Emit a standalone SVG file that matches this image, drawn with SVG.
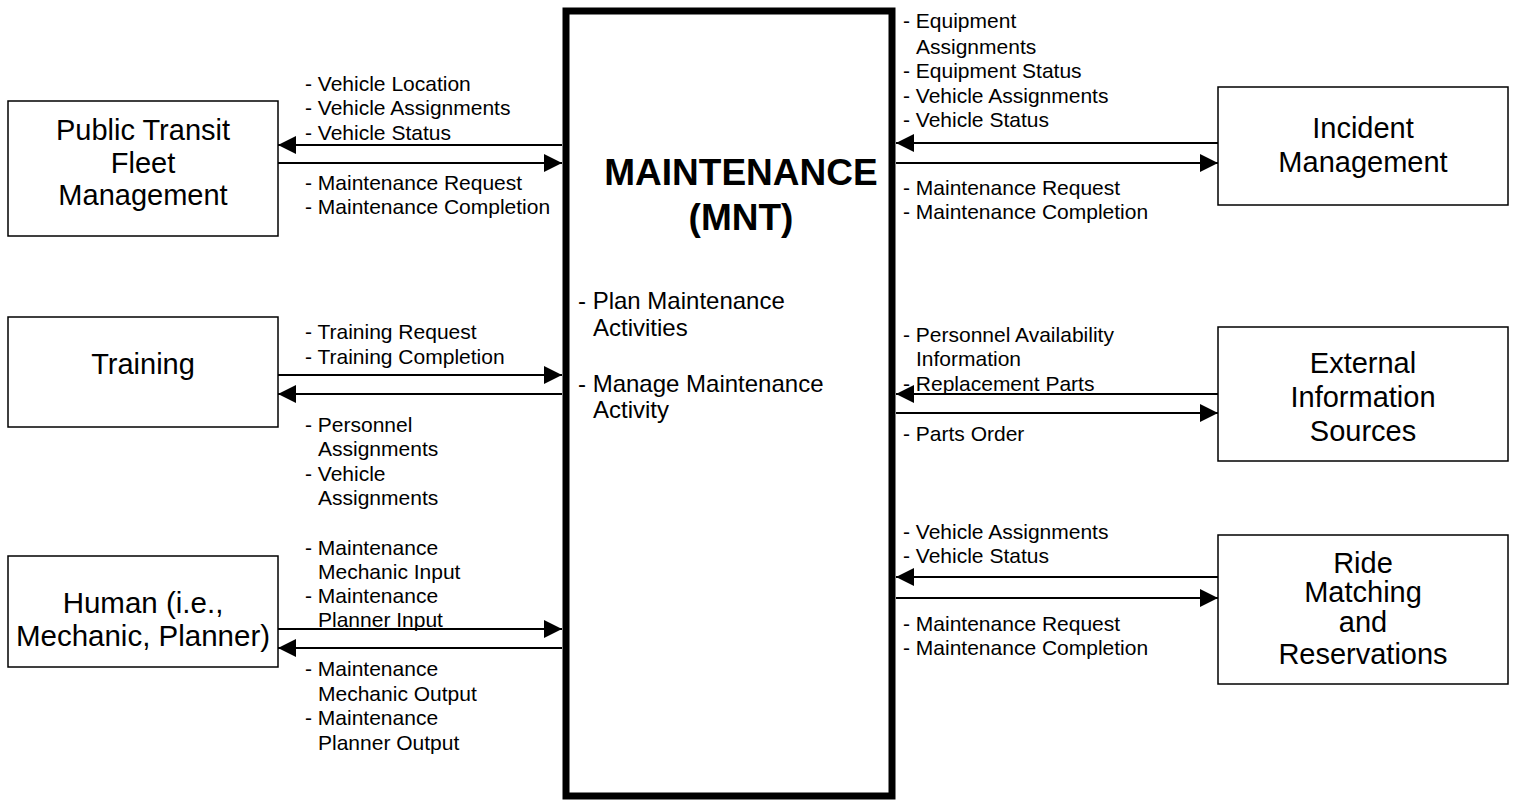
<svg xmlns="http://www.w3.org/2000/svg" width="1515" height="802" viewBox="0 0 1515 802">
<style>
.box{fill:#fff;stroke:#000;stroke-width:1.5}
.main{fill:#fff;stroke:#000;stroke-width:7}
.nt{font-family:"Liberation Sans",Arial,sans-serif;font-size:29px;text-anchor:middle;fill:#000}
.lb{font-family:"Liberation Sans",Arial,sans-serif;font-size:21px;fill:#000}
.ct{font-family:"Liberation Sans",Arial,sans-serif;font-size:24px;fill:#000}
.title{font-family:"Liberation Sans",Arial,sans-serif;font-size:37px;font-weight:bold;text-anchor:middle;fill:#000}
.ar{stroke:#000;stroke-width:2;fill:none;marker-end:url(#ah)}
</style>
<defs>
<marker id="ah" markerUnits="userSpaceOnUse" markerWidth="18" markerHeight="18" refX="18" refY="9" orient="auto">
<path d="M0,0 L18,9 L0,18 z" fill="#000"/>
</marker>
</defs>
<rect width="1515" height="802" fill="#fff"/>

<g id="mnt">
<rect class="main" x="566" y="11" width="326" height="785"/>
<text class="title" x="741" y="185">MAINTENANCE</text>
<text class="title" x="741" y="230">(MNT)</text>
<text class="ct" x="578" y="309">- Plan Maintenance</text>
<text class="ct" x="593" y="336">Activities</text>
<text class="ct" x="578" y="392">- Manage Maintenance</text>
<text class="ct" x="593" y="418">Activity</text>
</g>

<g id="ptfm">
<rect class="box" x="8" y="101" width="270" height="135"/>
<text class="nt" x="143" y="140">Public Transit</text>
<text class="nt" x="143" y="173">Fleet</text>
<text class="nt" x="143" y="205">Management</text>
</g>

<g id="training">
<rect class="box" x="8" y="317" width="270" height="110"/>
<text class="nt" x="143" y="374">Training</text>
</g>

<g id="human">
<rect class="box" x="8" y="556" width="270" height="111"/>
<text class="nt" x="143" y="613" style="font-size:29.5px">Human (i.e.,</text>
<text class="nt" x="143" y="646" style="font-size:29.5px">Mechanic, Planner)</text>
</g>

<g id="incident">
<rect class="box" x="1218" y="87" width="290" height="118"/>
<text class="nt" x="1363" y="138">Incident</text>
<text class="nt" x="1363" y="172">Management</text>
</g>

<g id="external">
<rect class="box" x="1218" y="327" width="290" height="134"/>
<text class="nt" x="1363" y="373">External</text>
<text class="nt" x="1363" y="407">Information</text>
<text class="nt" x="1363" y="441">Sources</text>
</g>

<g id="ride">
<rect class="box" x="1218" y="535" width="290" height="149"/>
<text class="nt" x="1363" y="573">Ride</text>
<text class="nt" x="1363" y="602">Matching</text>
<text class="nt" x="1363" y="632">and</text>
<text class="nt" x="1363" y="664">Reservations</text>
</g>

<g id="connectors">
<line class="ar" x1="562" y1="145" x2="278" y2="145"/>
<line class="ar" x1="278" y1="163" x2="562" y2="163"/>
<line class="ar" x1="278" y1="375" x2="562" y2="375"/>
<line class="ar" x1="562" y1="394" x2="278" y2="394"/>
<line class="ar" x1="278" y1="629" x2="562" y2="629"/>
<line class="ar" x1="562" y1="648" x2="278" y2="648"/>
<line class="ar" x1="1218" y1="143" x2="896" y2="143"/>
<line class="ar" x1="896" y1="163" x2="1218" y2="163"/>
<line class="ar" x1="1218" y1="394" x2="896" y2="394"/>
<line class="ar" x1="896" y1="413" x2="1218" y2="413"/>
<line class="ar" x1="1218" y1="577" x2="896" y2="577"/>
<line class="ar" x1="896" y1="598" x2="1218" y2="598"/>
</g>

<g id="labels">
<text class="lb" x="305" y="91">- Vehicle Location</text>
<text class="lb" x="305" y="115">- Vehicle Assignments</text>
<text class="lb" x="305" y="140">- Vehicle Status</text>
<text class="lb" x="305" y="190">- Maintenance Request</text>
<text class="lb" x="305" y="214">- Maintenance Completion</text>

<text class="lb" x="305" y="339">- Training Request</text>
<text class="lb" x="305" y="364">- Training Completion</text>
<text class="lb" x="305" y="432">- Personnel</text>
<text class="lb" x="318" y="456">Assignments</text>
<text class="lb" x="305" y="481">- Vehicle</text>
<text class="lb" x="318" y="505">Assignments</text>

<text class="lb" x="305" y="555">- Maintenance</text>
<text class="lb" x="318" y="579">Mechanic Input</text>
<text class="lb" x="305" y="603">- Maintenance</text>
<text class="lb" x="318" y="627">Planner Input</text>
<text class="lb" x="305" y="676">- Maintenance</text>
<text class="lb" x="318" y="701">Mechanic Output</text>
<text class="lb" x="305" y="725">- Maintenance</text>
<text class="lb" x="318" y="750">Planner Output</text>

<text class="lb" x="903" y="28">- Equipment</text>
<text class="lb" x="916" y="54">Assignments</text>
<text class="lb" x="903" y="78">- Equipment Status</text>
<text class="lb" x="903" y="103">- Vehicle Assignments</text>
<text class="lb" x="903" y="127">- Vehicle Status</text>
<text class="lb" x="903" y="195">- Maintenance Request</text>
<text class="lb" x="903" y="219">- Maintenance Completion</text>

<text class="lb" x="903" y="342">- Personnel Availability</text>
<text class="lb" x="916" y="366">Information</text>
<text class="lb" x="903" y="391">- Replacement Parts</text>
<text class="lb" x="903" y="441">- Parts Order</text>

<text class="lb" x="903" y="539">- Vehicle Assignments</text>
<text class="lb" x="903" y="563">- Vehicle Status</text>
<text class="lb" x="903" y="631">- Maintenance Request</text>
<text class="lb" x="903" y="655">- Maintenance Completion</text>
</g>
</svg>
